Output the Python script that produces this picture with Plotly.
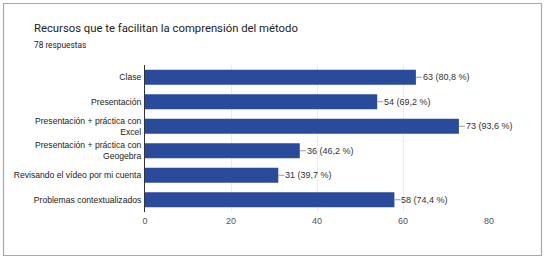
import plotly.graph_objects as go

categories = ["Clase", "Presentación", "Presentación + práctica con<br>Excel",
              "Presentación + práctica con<br>Geogebra", "Revisando el vídeo por mi cuenta",
              "Problemas contextualizados"]
counts = [63, 54, 73, 36, 31, 58]
percents = ["80,8", "69,2", "93,6", "46,2", "39,7", "74,4"]
tick_vals = [0, 20, 40, 60, 80]

W, H = 546, 260
L, R, T, B = 145, 57, 65, 48
pw, ph = W - L - R, H - T - B

fig = go.Figure()
fig.add_trace(go.Bar(
    x=counts, y=categories, orientation="h",
    marker=dict(color="#2a4b9b", line=dict(width=0)),
    width=0.62, hoverinfo="skip",
))

for c, v, p in zip(categories, counts, percents):
    fig.add_annotation(
        x=v, y=c, xref="x", yref="y",
        text=f"{v} ({p} %)", showarrow=True, arrowhead=0, arrowwidth=1,
        arrowcolor="#9a9a9a", ax=6, ay=0, xanchor="left",
        font=dict(family="Liberation Sans, Arial", size=9, color="#333333"),
        standoff=0, borderpad=0,
    )

def px_x(px):
    return (px - L) / pw

def px_y(py):
    return 1 - (py - T) / ph

fig.add_shape(type="rect", xref="paper", yref="paper",
              x0=px_x(3.5), x1=px_x(541.5), y0=px_y(255.5), y1=px_y(3.5),
              line=dict(color="#a8a8a8", width=1.2), layer="below")

fig.add_annotation(xref="paper", yref="paper", x=px_x(32), y=px_y(29),
                   text="Recursos que te facilitan la comprensión del método",
                   showarrow=False, xanchor="left", yanchor="middle",
                   font=dict(family="Roboto, Liberation Sans", size=11.3, color="#212121"))
fig.add_annotation(xref="paper", yref="paper", x=px_x(32), y=px_y(45),
                   text="78 respuestas", showarrow=False, xanchor="left", yanchor="middle",
                   font=dict(family="Roboto, Liberation Sans", size=8.3, color="#212121"))

fig.update_layout(
    width=W, height=H,
    margin=dict(l=L, r=R, t=T, b=B, pad=0, autoexpand=False),
    paper_bgcolor="white", plot_bgcolor="white",
    showlegend=False,
    font=dict(family="Liberation Sans, Arial", size=8.6, color="#222222"),
)
fig.update_xaxes(range=[0, 80], tickvals=tick_vals, showgrid=True, gridcolor="#ececec",
                 zeroline=False, showline=False, ticks="", automargin=False,
                 ticklabelstandoff=2,
                 tickfont=dict(color="#555555", size=9), fixedrange=True)
fig.update_yaxes(showgrid=False, zeroline=False, automargin=False,
                 showline=True, linecolor="#333333", linewidth=1, ticks="", ticklen=0,
                 ticklabelstandoff=1,
                 tickfont=dict(color="#222222", size=8.6), fixedrange=True)
fig.update_yaxes(range=[5.5, -0.5], autorange=False)

fig.write_html("out.html", config={"displayModeBar": False},
               post_script="document.body.style.margin='0';document.body.style.overflow='hidden';")
